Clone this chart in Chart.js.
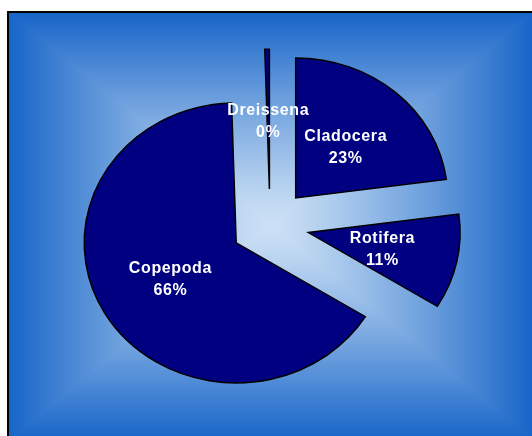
<!DOCTYPE html>
<html>
<head>
<meta charset="utf-8">
<script src="https://cdn.jsdelivr.net/npm/chart.js@4/dist/chart.umd.min.js"></script>
<style>
  html, body { margin: 0; padding: 0; background: #ffffff; }
  #wrap { width: 532px; height: 436px; }
</style>
</head>
<body>
<div id="wrap"><canvas id="c" width="532" height="436"></canvas></div>
<script>
// ---- data ----
const categories = ['Cladocera', 'Rotifera', 'Copepoda', 'Dreissena'];
const shares = [23, 11, 66, 0.49];

// ---- styling ----
const sliceColor = '#000080';
const explodePx = 39;      // distance each slice is pulled out
const pieRadius = 152;
const ySquash = 0.921;     // pie is slightly wider than tall
const frame = { left: 8, top: 12, right: 534, bottom: 440 };
const edgeRGB = [22, 100, 200];
const centerRGB = [205, 225, 245];
const gradGamma = 1.2;

const total = shares.reduce((a, b) => a + b, 0);

const backgroundPlugin = {
  id: 'bg',
  beforeDraw(chart) {
    const ctx = chart.ctx;
    const W = chart.width, H = chart.height;
    const { left: L, top: T, right: R, bottom: B } = frame;
    const cx = (L + R) / 2, cy = (T + B) / 2;
    const hw = (R - L) / 2, hh = (B - T) / 2;
    const img = ctx.createImageData(W, H);
    const d = img.data;
    for (let y = 0; y < H; y++) {
      for (let x = 0; x < W; x++) {
        const k = (y * W + x) * 4;
        if (x < L || y < T || x > R || y > B) {
          d[k] = d[k + 1] = d[k + 2] = 255; d[k + 3] = 255; continue;
        }
        let t = Math.max(Math.abs(x + 0.5 - cx) / hw, Math.abs(y + 0.5 - cy) / hh);
        t = Math.pow(Math.min(1, t), gradGamma);
        d[k] = centerRGB[0] + (edgeRGB[0] - centerRGB[0]) * t;
        d[k + 1] = centerRGB[1] + (edgeRGB[1] - centerRGB[1]) * t;
        d[k + 2] = centerRGB[2] + (edgeRGB[2] - centerRGB[2]) * t;
        d[k + 3] = 255;
      }
    }
    ctx.putImageData(img, 0, 0);
    ctx.save();
    ctx.strokeStyle = '#000000';
    ctx.lineWidth = 2;
    ctx.strokeRect(L, T, R - L, B - T);
    ctx.restore();
  }
};

// pulls every slice out along its bisector and squashes the pie vertically
const explodePlugin = {
  id: 'explode',
  beforeDatasetsDraw(chart) {
    const meta = chart.getDatasetMeta(0);
    const ctx = chart.ctx;
    const cy = meta.data[0].y;
    ctx.save();
    ctx.translate(0, cy);
    ctx.scale(1, ySquash);
    ctx.translate(0, -cy);
    meta.data.forEach((el) => {
      const mid = (el.startAngle + el.endAngle) / 2;
      el._origX = el.x; el._origY = el.y;
      el.x = el.x + Math.cos(mid) * explodePx;
      el.y = el.y + Math.sin(mid) * explodePx;
    });
  },
  afterDatasetsDraw(chart) {
    const meta = chart.getDatasetMeta(0);
    meta.data.forEach((el) => {
      el.x = el._origX; el.y = el._origY;
    });
    chart.ctx.restore();
  }
};

const labelPlugin = {
  id: 'sliceLabels',
  afterDraw(chart) {
    const ctx = chart.ctx;
    const meta = chart.getDatasetMeta(0);
    ctx.save();
    ctx.fillStyle = '#ffffff';
    ctx.font = 'bold 16px "Liberation Sans", Arial, sans-serif';
    ctx.textAlign = 'center';
    ctx.textBaseline = 'middle';
    try { ctx.letterSpacing = '0.6px'; } catch (e) {}
    meta.data.forEach((el, i) => {
      const mid = (el.startAngle + el.endAngle) / 2;
      const d = explodePx + el.outerRadius / 2;
      const x = el.x + Math.cos(mid) * d;
      const y = el.y + Math.sin(mid) * d * ySquash + 2;
      const pct = Math.round(shares[i] / total * 100) + '%';
      ctx.fillText(categories[i], x, y - 11);
      ctx.fillText(pct, x, y + 11);
    });
    ctx.restore();
  }
};

new Chart(document.getElementById('c'), {
  type: 'pie',
  data: {
    labels: categories,
    datasets: [{
      data: shares,
      backgroundColor: sliceColor,
      borderColor: '#000000',
      borderWidth: 1.5,
      borderJoinStyle: 'miter',
      clip: false
    }]
  },
  options: {
    responsive: false,
    animation: false,
    radius: pieRadius,
    layout: { padding: { left: 8, right: 0, top: 14, bottom: 0 } },
    plugins: {
      legend: { display: false },
      tooltip: { enabled: false },
      title: { display: false }
    },
    events: []
  },
  plugins: [backgroundPlugin, explodePlugin, labelPlugin]
});
</script>
</body>
</html>
